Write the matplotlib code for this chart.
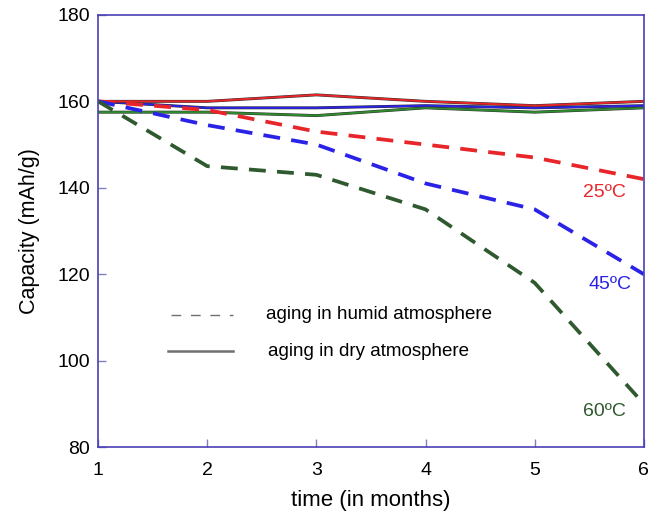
import matplotlib.pyplot as plt

plt.rcParams['font.family'] = ['Liberation Sans', 'DejaVu Sans']

months = [1, 2, 3, 4, 5, 6]

# capacity after aging in humid atmosphere (mAh/g)
humid_25 = [160, 158, 153, 150, 147, 142]
humid_45 = [160, 154.5, 150, 141, 135, 120]
humid_60 = [160, 145, 143, 135, 118, 90]

# capacity after aging in dry atmosphere (mAh/g)
dry_25 = [160, 160, 161.5, 160, 159, 160]
dry_45 = [160, 158.5, 158.5, 159, 158.5, 159]
dry_60 = [157.5, 157.5, 156.7, 158.5, 157.5, 158.5]

temp_labels = ['25ºC', '45ºC', '60ºC']
red = '#e8262a'
blue = '#2a22e6'
green_dry = '#2e8b2e'
green_humid = '#2f5a2f'

fig = plt.figure(figsize=(6.63, 5.15), dpi=100)
ax = fig.add_axes([0.148, 0.132, 0.823, 0.839])

# dry series: thin dark underlay, coloured line on top
for vals, col in [(dry_60, green_dry), (dry_45, blue), (dry_25, red)]:
    ax.plot(months, vals, color='#303030', lw=2.1, solid_joinstyle='round')
    ax.plot(months, vals, color=col, lw=1.4)

# humid series: thick dashed
for vals, col in [(humid_25, red), (humid_45, blue), (humid_60, green_humid)]:
    ax.plot(months, vals, color=col, lw=2.7, dashes=(4.5, 3.0))

ax.text(5.64, 138.8, temp_labels[0], color=red, fontsize=14, ha='center', va='center')
ax.text(5.69, 117.5, temp_labels[1], color=blue, fontsize=14, ha='center', va='center')
ax.text(5.64, 88.3, temp_labels[2], color=green_humid, fontsize=14, ha='center', va='center')

# legend drawn by hand in axes coordinates
ax.plot([0.133, 0.247], [0.306, 0.306], transform=ax.transAxes,
        color='#707070', lw=1.0, dashes=(7, 7))
ax.plot([0.128, 0.247], [0.222, 0.222], transform=ax.transAxes,
        color='#707070', lw=1.8)
ax.text(0.307, 0.306, 'aging in humid atmosphere', transform=ax.transAxes,
        fontsize=13.5, va='center')
ax.text(0.312, 0.222, 'aging in dry atmosphere', transform=ax.transAxes,
        fontsize=13.5, va='center')

ax.set_xlim(1, 6)
ax.set_ylim(80, 180)
ax.set_xticks(months)
ax.set_yticks([80, 100, 120, 140, 160, 180])
ax.tick_params(direction='in', length=6, width=1, color='#8080c0',
               labelsize=14)
ax.tick_params(axis='x', pad=11)
ax.tick_params(axis='y', pad=6)
for side in ax.spines.values():
    side.set_color('#4a3fb5')
    side.set_linewidth(1.2)

ax.set_xlabel('time (in months)', fontsize=16, labelpad=8)
ax.set_ylabel('Capacity (mAh/g)', fontsize=15.5, labelpad=12)

fig.savefig('out.png', dpi=100)
